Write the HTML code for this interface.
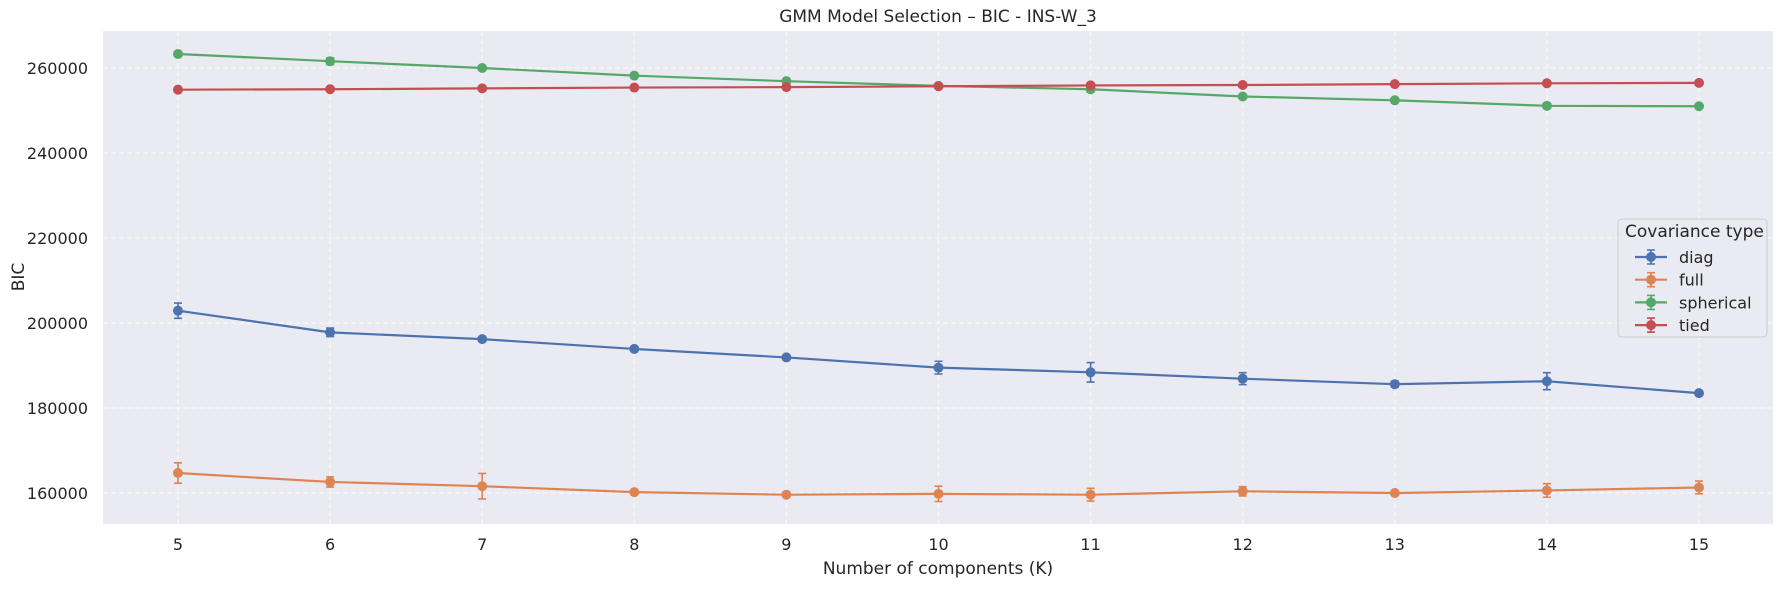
<!DOCTYPE html>
<html><head><meta charset="utf-8"><style>
html,body{margin:0;padding:0;background:#fff;}
svg text{font-family:"DejaVu Sans","Liberation Sans",sans-serif;fill:#262626;}
</style></head><body>
<svg id="chart" width="1784" height="584" xmlns="http://www.w3.org/2000/svg">
<rect x="103" y="31" width="1670" height="493" fill="#eaeaf2"/>
<g id="grid" opacity="0.7"></g>
<g id="series"></g>
<g id="ticks"></g>
<text x="938" y="22" font-size="17" text-anchor="middle">GMM Model Selection – BIC - INS-W_3</text>
<text x="938" y="574" font-size="17" text-anchor="middle">Number of components (K)</text>
<text x="24" y="277" font-size="17" text-anchor="middle" transform="rotate(-90 24 277)">BIC</text>
<g id="legend">
<rect x="1618" y="219" width="149" height="118" rx="4" fill="#eaeaf2" fill-opacity="0.85" stroke="#cccccc"/>
<text x="1625" y="237" font-size="17">Covariance type</text>
</g>
</svg>
<script>
const ks = [5,6,7,8,9,10,11,12,13,14,15];
const seriesNames = ["diag","full","spherical","tied"];
const diagVals = [202900,197800,196200,193900,191900,189500,188400,186900,185600,186300,183500];
const diagErr = [1800,1000,500,400,500,1500,2300,1400,700,2000,400];
const fullVals = [164700,162600,161600,160200,159600,159800,159600,160400,160000,160600,161300];
const fullErr = [2400,1200,3000,400,400,1800,1500,1100,400,1600,1500];
const sphVals = [263300,261600,260000,258200,256900,255800,255000,253300,252400,251100,251000];
const sphErr = [300,800,300,300,300,300,700,300,300,600,300];
const tiedVals = [254900,255000,255200,255400,255500,255700,255900,256000,256200,256400,256500];
const tiedErr = [300,300,300,300,300,300,300,300,300,300,300];
const yTicks = [160000,180000,200000,220000,240000,260000];
const colors = ["#4c72b0","#dd8452","#55a868","#c44e52"];

const NS="http://www.w3.org/2000/svg";
const xS = k => 178 + (k-5)*152.1;
const yS = v => 408 - (v-180000)*85/20000;
function mk(tag, attrs, parent){const e=document.createElementNS(NS,tag);for(const a in attrs)e.setAttribute(a,attrs[a]);parent.appendChild(e);return e;}
const grid=document.getElementById('grid'), ser=document.getElementById('series'), tk=document.getElementById('ticks'), lg=document.getElementById('legend');
ks.forEach(k=>{
  const l=mk('line',{x1:xS(k),x2:xS(k),y1:31,y2:524,stroke:'#fff','stroke-width':1.2,'stroke-dasharray':'5,3'},grid);
  
  
  const t=mk('text',{x:xS(k),y:550,'font-size':16,'text-anchor':'middle'},tk);t.textContent=k;
  
  
});
yTicks.forEach(v=>{
  const l=mk('line',{x1:103,x2:1773,y1:yS(v),y2:yS(v),stroke:'#fff','stroke-width':1.2,'stroke-dasharray':'5,3'},grid);
  
  
  const t=mk('text',{x:88,y:yS(v)+6,'font-size':16,'text-anchor':'end'},tk);t.textContent=v;
  
  
});
const allVals=[diagVals,fullVals,sphVals,tiedVals], allErr=[diagErr,fullErr,sphErr,tiedErr];
allVals.forEach((vals,si)=>{
  const c=colors[si];
  const g=mk('g',{},ser);
  
  
  const pts=vals.map((v,i)=>xS(ks[i])+','+yS(v)).join(' ');
  const pl=mk('polyline',{points:pts,fill:'none',stroke:c,'stroke-width':2.2},g);
  
  
  vals.forEach((v,i)=>{
    const x=xS(ks[i]), e=allErr[si][i], y1=yS(v+e), y2=yS(v-e);
    const eb=mk('path',{d:`M${x},${y1}V${y2}M${x-4},${y1}H${x+4}M${x-4},${y2}H${x+4}`,stroke:c,'stroke-width':1.6,fill:'none'},g);
    
    
    const p=mk('circle',{cx:x,cy:yS(v),r:5,fill:c},g);
    
    
  });
  const ly=257+si*22.7;
  const le=mk('g',{},lg);
  
  
  mk('line',{x1:1635,x2:1667,y1:ly,y2:ly,stroke:c,'stroke-width':2.2},le);
  mk('path',{d:`M1651,${ly-7}V${ly+7}M1647,${ly-7}H1655M1647,${ly+7}H1655`,stroke:c,'stroke-width':1.6},le);
  mk('circle',{cx:1651,cy:ly,r:5,fill:c},le);
  const t=mk('text',{x:1679,y:ly+6,'font-size':16},le);t.textContent=seriesNames[si];
});
</script>
</body></html>
